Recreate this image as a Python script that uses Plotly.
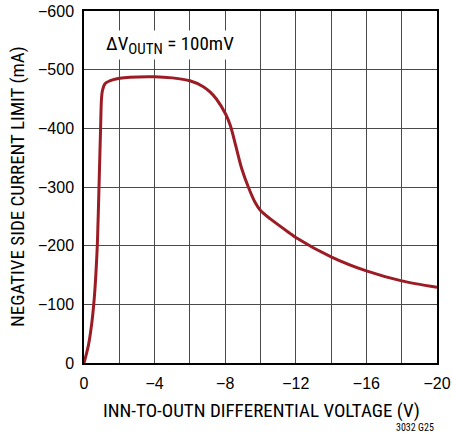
import plotly.graph_objects as go

# Data
x_volts = [0, -0.25, -0.45, -0.58, -0.68, -0.76, -0.85, -0.94, -0.99, -1.05, -1.19,
           -1.66, -2.6, -4.0, -5.0, -6.0, -6.76, -7.14, -7.5, -8.03, -8.3, -8.6,
           -8.93, -9.31, -9.69, -10.0, -10.54, -11.67, -12, -14, -16, -18, -20]
i_limit = [0, -30, -70, -110, -155, -205, -300, -400, -450, -465, -476,
           -483, -487, -488, -486, -481, -471, -462, -450, -424, -404, -370,
           -332, -300, -274, -260, -246, -221, -214, -181, -157, -140, -129]

x_tickvals = [0, -2, -4, -6, -8, -10, -12, -14, -16, -18, -20]
x_ticktext = ["0", "", "−4", "", "−8", "", "−12", "", "−16", "", "−20"]
y_tickvals = [0, -100, -200, -300, -400, -500, -600]
y_ticktext = ["0", "−100", "−200", "−300", "−400", "−500", "−600"]

NARROW = "Roboto Condensed, Liberation Sans Narrow, Arial Narrow, sans-serif"
REG = "Liberation Sans, Arial, sans-serif"

W, H = 452, 435
L, R, T, B = 84, 15, 11, 72
pw, ph = W - L - R, H - T - B


def px_x(p):
    return (p - L) / pw


def px_y(p):
    return (H - B - p) / ph


fig = go.Figure()
fig.add_trace(go.Scatter(
    x=x_volts, y=i_limit, mode="lines",
    line=dict(color="#9b1c24", width=3, shape="spline", smoothing=0.8),
    hoverinfo="skip", showlegend=False,
))

axis_common = dict(
    showgrid=True, gridcolor="#4a4a4a", gridwidth=1,
    showline=True, linecolor="black", linewidth=1.5, mirror=True,
    zeroline=False, ticks="", ticklen=0, automargin=False,
    tickfont=dict(family=REG, size=16), ticklabelstandoff=5,
    ticklabeloverflow="allow",
)

fig.update_layout(
    width=W, height=H,
    margin=dict(l=L, r=R, t=T, b=B),
    paper_bgcolor="white", plot_bgcolor="white",
    font=dict(family=NARROW, color="black", size=19),
    xaxis=dict(range=[0, -20], tickvals=x_tickvals, ticktext=x_ticktext, **axis_common),
    yaxis=dict(range=[0, -600], tickvals=y_tickvals, ticktext=y_ticktext, **axis_common),
    annotations=[
        dict(text="INN-TO-OUTN DIFFERENTIAL VOLTAGE (V)", xref="paper", yref="paper",
             x=px_x(261), y=px_y(410), showarrow=False, xanchor="center", yanchor="middle",
             font=dict(family=NARROW, size=19)),
        dict(text="NEGATIVE SIDE CURRENT LIMIT (mA)", xref="paper", yref="paper",
             x=px_x(17), y=px_y(187), showarrow=False, xanchor="center", yanchor="middle",
             textangle=-90, font=dict(family=NARROW, size=19)),
        dict(text="ΔV<sub><span style='font-size:15px'>OUTN</span></sub> = 100mV",
             xref="paper", yref="paper", x=px_x(104), y=px_y(45),
             showarrow=False, xanchor="left", yanchor="middle",
             font=dict(family=NARROW, size=19), bgcolor="white"),
        dict(text="3032 G25", xref="paper", yref="paper", x=px_x(436), y=px_y(427),
             showarrow=False, xanchor="right", yanchor="middle",
             font=dict(family=NARROW, size=10)),
    ],
)

fig.write_html("out.html", config={"displayModeBar": False},
               post_script="document.body.style.margin='0px';")
